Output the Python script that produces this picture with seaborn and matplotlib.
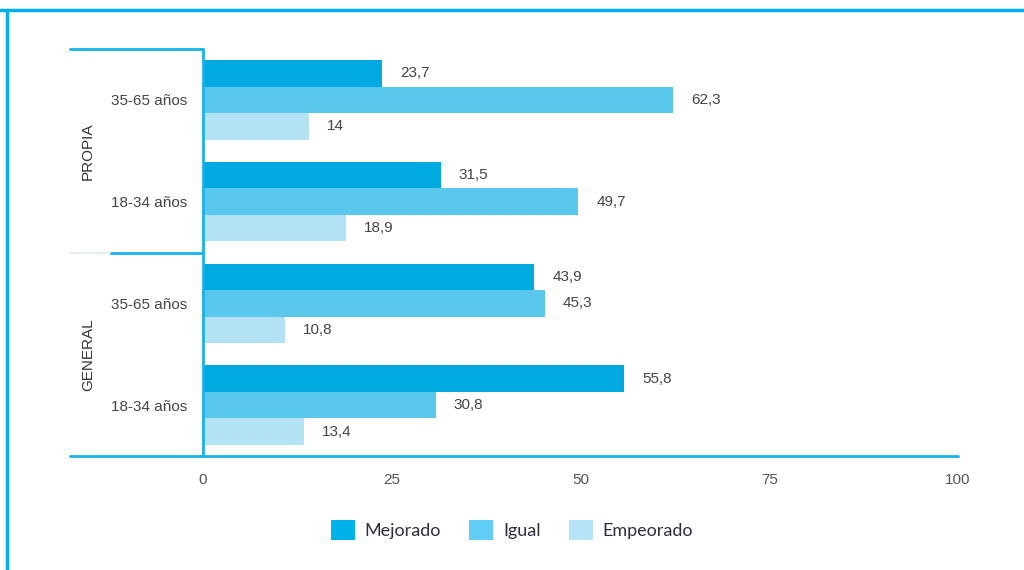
import pandas as pd
import matplotlib.pyplot as plt
import seaborn as sns
from matplotlib.lines import Line2D
from matplotlib.transforms import blended_transform_factory

# Datos (de arriba a abajo)
grupos = ["PROPIA", "PROPIA", "GENERAL", "GENERAL"]
edades = ["35-65 años", "18-34 años", "35-65 años", "18-34 años"]
series = ["Mejorado", "Igual", "Empeorado"]
mejorado = [23.7, 31.5, 43.9, 55.8]
igual = [62.3, 49.7, 45.3, 30.8]
empeorado = [14, 18.9, 10.8, 13.4]
xticks = [0, 25, 50, 75, 100]

colores = ["#00A9E0", "#5AC7EC", "#B4E2F5"]
colores_leyenda = ["#00B1EA", "#62CDF5", "#B6E3F8"]
azul = "#19B2E8"

sns.set_theme(style="white")
plt.rcParams['font.family'] = ['Liberation Sans', 'DejaVu Sans']

rows = []
for i, (g, e) in enumerate(zip(grupos, edades)):
    cat = f"{g} {e}"
    for s, vals in zip(series, [mejorado, igual, empeorado]):
        rows.append({"cat": cat, "serie": s, "valor": vals[i]})
df = pd.DataFrame(rows)
cats = [f"{g} {e}" for g, e in zip(grupos, edades)]

fig = plt.figure(figsize=(10.24, 5.70), dpi=100)
ax = fig.add_axes([203 / 1024, 1 - 456 / 570, 755 / 1024, 407 / 570])

sns.barplot(data=df, y="cat", x="valor", hue="serie", order=cats, hue_order=series,
            palette=colores, orient="h", width=0.78, saturation=1, linewidth=0,
            ax=ax)

handles, labels = ax.get_legend_handles_labels()
ax.legend_.remove()
for h, c in zip(handles, colores_leyenda):
    h.set_facecolor(c)
    h.set_edgecolor(c)

for cont in ax.containers:
    vals = [r.get_width() for r in cont]
    ax.bar_label(cont, labels=[f"{v:g}".replace(".", ",") for v in vals],
                 padding=13, fontsize=11, color="#444444")

ax.set_xlim(0, 100)
ax.set_ylim(3.5, -0.5)
ax.set_xticks(xticks)
ax.set_xticklabels([str(t) for t in xticks])
ax.set_yticks(range(len(cats)))
ax.set_yticklabels(edades)
ax.tick_params(axis="y", length=0, pad=11, labelsize=11, labelcolor="#444444")
ax.tick_params(axis="x", length=0, pad=12, labelsize=11, labelcolor="#555555")
ax.set_xlabel("")
ax.set_ylabel("")
for sp in ax.spines.values():
    sp.set_visible(False)

# Ejes y marcos
tr = blended_transform_factory(ax.transAxes, ax.transData)
x0 = (70 - 203) / 755
ax.add_line(Line2D([x0, 0], [-0.5, -0.5], transform=tr, color=azul, lw=2, clip_on=False))
ax.add_line(Line2D([0, 0], [-0.5, 3.5], transform=tr, color=azul, lw=2, clip_on=False))
ax.add_line(Line2D([x0, 1], [3.5, 3.5], transform=tr, color=azul, lw=2, clip_on=False))
ax.add_line(Line2D([(110 - 203) / 755, 0], [1.5, 1.5], transform=tr, color=azul, lw=2, clip_on=False))
ax.add_line(Line2D([x0, (110 - 203) / 755], [1.5, 1.5], transform=tr, color="#E3EEF3", lw=1.5, clip_on=False))

# Etiquetas de grupo
gx = (88 - 203) / 755
for nombre, ypos in [("PROPIA", 0.5), ("GENERAL", 2.5)]:
    ax.text(gx, ypos, nombre, transform=tr, rotation=90, ha="center", va="center",
            fontsize=11, color="#333333")

# Marco exterior
fig.add_artist(Line2D([0, 1], [1 - 10 / 570, 1 - 10 / 570], color="#00AEEF", lw=2.5))
fig.add_artist(Line2D([7 / 1024, 7 / 1024], [0, 1 - 10 / 570], color="#00AEEF", lw=2.5))

fig.legend(handles, labels, loc="center", bbox_to_anchor=(512 / 1024, 1 - 530 / 570),
           ncol=3, frameon=False, prop={"family": "Lato", "size": 13},
           handlelength=1.33, handleheight=1.33, handletextpad=0.55, columnspacing=1.55,
           labelcolor="#2E2E40")

fig.savefig("out.png", dpi=100)
